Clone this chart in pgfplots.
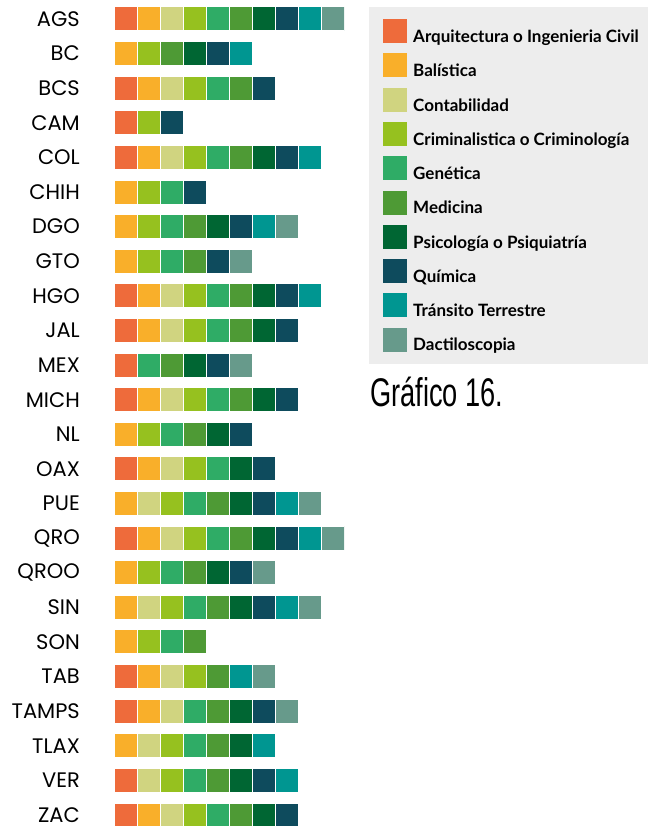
\documentclass[border=0pt]{standalone}
\usepackage{pgfplots}
\pgfplotsset{compat=1.18}
\usepackage{pgfplotstable}
\usepackage{fontspec}
\setmainfont{Poppins}
\newfontfamily\labfont{Poppins}
\newfontfamily\legfont{Lato}
\newfontfamily\condfont{Liberation Sans}[FakeStretch=0.68]
\definecolor{cA}{HTML}{EE6B3B}
\definecolor{cB}{HTML}{F9AF2A}
\definecolor{cC}{HTML}{D0D480}
\definecolor{cD}{HTML}{96C11F}
\definecolor{cE}{HTML}{2FAC66}
\definecolor{cF}{HTML}{4E9A35}
\definecolor{cG}{HTML}{006633}
\definecolor{cH}{HTML}{0E4B5D}
\definecolor{cI}{HTML}{009691}
\definecolor{cJ}{HTML}{679A8B}
\definecolor{legbg}{HTML}{EDEDED}
\pgfplotstableread{
y A B C D E F G H I J
0 1 1 1 1 1 1 1 1 1 1
1 0 1 0 1 0 1 1 1 1 0
2 1 1 1 1 1 1 0 1 0 0
3 1 0 0 1 0 0 0 1 0 0
4 1 1 1 1 1 1 1 1 1 0
5 0 1 0 1 1 0 0 1 0 0
6 0 1 0 1 1 1 1 1 1 1
7 0 1 0 1 1 1 0 1 0 1
8 1 1 1 1 1 1 1 1 1 0
9 1 1 1 1 1 1 1 1 0 0
10 1 0 0 0 1 1 1 1 0 1
11 1 1 1 1 1 1 1 1 0 0
12 0 1 0 1 1 1 1 1 0 0
13 1 1 1 1 1 0 1 1 0 0
14 0 1 1 1 1 1 1 1 1 1
15 1 1 1 1 1 1 1 1 1 1
16 0 1 0 1 1 1 1 1 0 1
17 0 1 1 1 1 1 1 1 1 1
18 0 1 0 1 1 1 0 0 0 0
19 1 1 1 1 0 1 0 0 1 1
20 1 1 1 0 1 1 1 1 0 1
21 0 1 1 1 1 1 1 0 1 0
22 1 0 1 1 1 1 1 1 1 0
23 1 1 1 1 1 1 1 1 0 0
}\datatable
\pgfplotsset{sq/.style={legend image code/.code={\fill[##1,draw=none] (0pt,-6.2pt) rectangle (24pt,17.8pt);}}}
\begin{document}
\begin{tikzpicture}
\useasboundingbox (0pt,0pt) rectangle (647pt,826pt);
\begin{axis}[
  at={(114pt,0pt)}, anchor=south west,
  scale only axis, width=230pt, height=826pt,
  xbar stacked, bar width=24pt,
  xmin=0, xmax=10, ymin=-0.549, ymax=23.318, y dir=reverse,
  axis line style={draw=none}, tick style={draw=none},
  xtick=\empty,
  ytick={0,...,23},
  yticklabels={AGS,BC,BCS,CAM,COL,CHIH,DGO,GTO,HGO,JAL,MEX,MICH,NL,OAX,PUE,QRO,QROO,SIN,SON,TAB,TAMPS,TLAX,VER,ZAC},
  y tick label style={font=\labfont\fontsize{21}{22}\selectfont, inner sep=0pt, xshift=-34pt},
  legend style={at={(1.1087,0.99153)}, anchor=north west, fill=legbg, draw=none,
    inner xsep=14pt, inner ysep=12pt, row sep=9.4pt,
    font=\legfont\bfseries\fontsize{17}{18}\selectfont,
    nodes={inner sep=0pt},
    /tikz/every odd column/.style={column sep=6pt}},
  legend cell align=left,
]
\addplot[fill=cA, draw=white, line width=1pt, sq] table[x=A,y=y]{\datatable};
\addplot[fill=cB, draw=white, line width=1pt, sq] table[x=B,y=y]{\datatable};
\addplot[fill=cC, draw=white, line width=1pt, sq] table[x=C,y=y]{\datatable};
\addplot[fill=cD, draw=white, line width=1pt, sq] table[x=D,y=y]{\datatable};
\addplot[fill=cE, draw=white, line width=1pt, sq] table[x=E,y=y]{\datatable};
\addplot[fill=cF, draw=white, line width=1pt, sq] table[x=F,y=y]{\datatable};
\addplot[fill=cG, draw=white, line width=1pt, sq] table[x=G,y=y]{\datatable};
\addplot[fill=cH, draw=white, line width=1pt, sq] table[x=H,y=y]{\datatable};
\addplot[fill=cI, draw=white, line width=1pt, sq] table[x=I,y=y]{\datatable};
\addplot[fill=cJ, draw=white, line width=1pt, sq] table[x=J,y=y]{\datatable};
\legend{Arquitectura o Ingenieria Civil, Balística, Contabilidad, Criminalistica o Criminología, Genética, Medicina, Psicología o Psiquiatría, Química, Tránsito Terrestre, Dactiloscopia}
\end{axis}
\node[anchor=base west, inner sep=0pt, font=\condfont\fontsize{40}{42}\selectfont] at (370pt,419pt) {Gráfico 16.};
\end{tikzpicture}
\end{document}
